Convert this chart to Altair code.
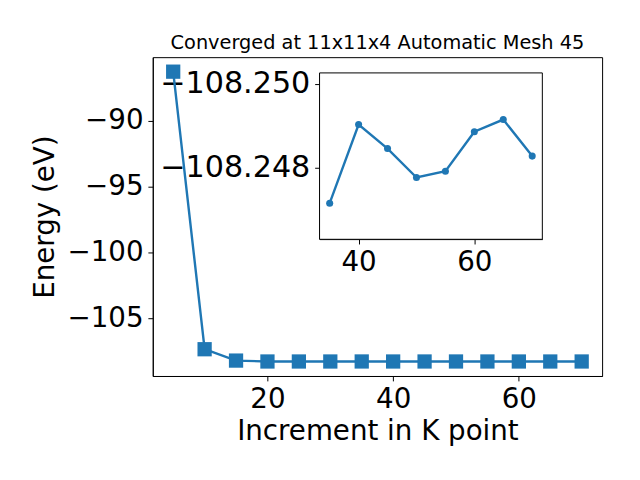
import altair as alt
import pandas as pd

# Main series: k-point increment vs total energy
k_main = [5, 10, 15, 20, 25, 30, 35, 40, 45, 50, 55, 60, 65, 70]
e_main = [-86.3, -107.32, -108.18, -108.249, -108.2488, -108.2489,
          -108.24716, -108.24903, -108.24846, -108.24777, -108.24792,
          -108.24886, -108.24915, -108.24828]

# Inset series (zoom on converged region)
k_inset = [35, 40, 45, 50, 55, 60, 65, 70]
e_inset = [-108.24716, -108.24903, -108.24846, -108.24777, -108.24792,
           -108.24886, -108.24915, -108.24828]

main_x_ticks = [20, 40, 60]
main_y_ticks = [-105, -100, -95, -90]
inset_x_ticks = [40, 60]
inset_y_ticks = [-108.250, -108.248]

BLUE = "#1f77b4"
FONT = "DejaVu Sans"
W, H = 451, 320

main_df = pd.DataFrame({"k": k_main, "e": e_main})
inset_df = pd.DataFrame({"k": k_inset, "e": e_inset})

main_x = alt.X("k:Q", scale=alt.Scale(domain=[1.75, 73.25], nice=False, zero=False),
               axis=alt.Axis(values=main_x_ticks, format="d", title="Increment in K point",
                             titleY=63.5, titleBaseline="alphabetic"))
main_y = alt.Y("e:Q", scale=alt.Scale(domain=[-109.3475, -85.2025], nice=False, zero=False),
               axis=alt.Axis(values=main_y_ticks, format="d", title="Energy (eV)",
                             titleX=-99.8, titleY=H / 2, titleBaseline="alphabetic",
                             titleAngle=-90, titleAlign="center"))

main_line = alt.Chart(main_df).mark_line(color=BLUE, strokeWidth=2.4).encode(x=main_x, y=main_y)
main_pts = alt.Chart(main_df).mark_point(shape="square", filled=True, size=205,
                                         color=BLUE, opacity=1).encode(x=main_x, y=main_y)
main = alt.layer(main_line, main_pts)

ix_dom = [33.25, 71.75]
iy_dom = [-108.25026, -108.2463]
ix_scale = alt.Scale(domain=ix_dom, range=[167.4, 391], nice=False, zero=False)
iy_scale = alt.Scale(domain=iy_dom, range=[15.8, 182.8], nice=False, zero=False)
ix_axis = alt.Axis(values=inset_x_ticks, format="d", title=None, orient="bottom", offset=-137.4)
iy_axis = alt.Axis(values=inset_y_ticks, format=".3f", title=None, orient="left", offset=-167.4,
                   labelFontSize=30.3)

frame_df = pd.DataFrame({"x0": [ix_dom[0]], "x1": [ix_dom[1]], "y0": [iy_dom[0]], "y1": [iy_dom[1]]})
inset_frame = alt.Chart(frame_df).mark_rect(fill="white", stroke="black", strokeWidth=1).encode(
    x=alt.X("x0:Q", scale=ix_scale, axis=ix_axis), x2="x1:Q",
    y=alt.Y("y0:Q", scale=iy_scale, axis=iy_axis), y2="y1:Q")
inset_line = alt.Chart(inset_df).mark_line(color=BLUE, strokeWidth=2.4).encode(
    x=alt.X("k:Q", scale=ix_scale, axis=ix_axis), y=alt.Y("e:Q", scale=iy_scale, axis=iy_axis))
inset_pts = alt.Chart(inset_df).mark_point(shape="circle", filled=True, size=50,
                                           color=BLUE, opacity=1).encode(
    x=alt.X("k:Q", scale=ix_scale, axis=ix_axis), y=alt.Y("e:Q", scale=iy_scale, axis=iy_axis))
inset = alt.layer(inset_frame, inset_line, inset_pts)

chart = alt.layer(main, inset).resolve_scale(x="independent", y="independent").properties(
    width=W, height=H,
    title=alt.TitleParams("Converged at 11x11x4 Automatic Mesh 45", font=FONT, fontSize=19.4,
                          fontWeight="normal", color="black", anchor="middle",
                          baseline="alphabetic", offset=-11),
    autosize=alt.AutoSizeParams(type="none"),
    padding={"left": 145.3, "top": 48.5, "right": 30, "bottom": 95},
).configure_view(stroke="black", strokeWidth=1).configure_axis(
    grid=False, labelFont=FONT, titleFont=FONT, labelFontSize=27.8, titleFontSize=27.8,
    titleFontWeight="normal", labelColor="black", titleColor="black",
    tickColor="black", domainColor="black", tickSize=4.9, labelPadding=4.9,
    domainWidth=1, tickWidth=1, labelFlush=False, labelOverlap=False,
)

chart.save("out.html", embed_options={"renderer": "svg", "actions": False})
